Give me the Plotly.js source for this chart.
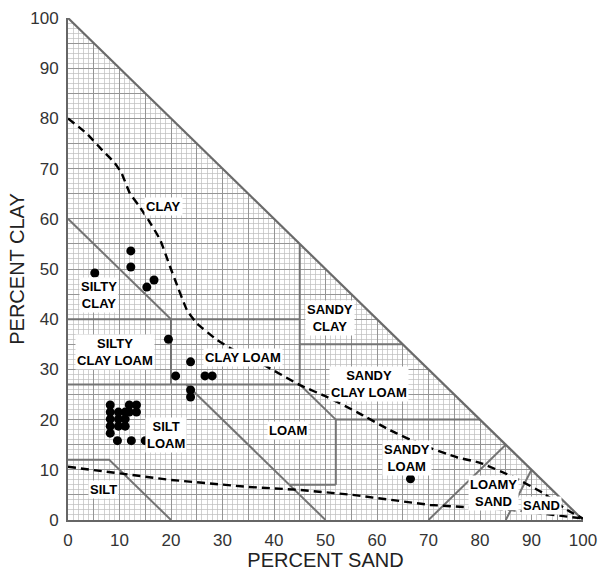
<!DOCTYPE html>
<html>
<head>
<meta charset="utf-8">
<script src="https://cdn.plot.ly/plotly-3.0.1.min.js"></script>
<style>
  html, body { margin: 0; padding: 0; background: #fff; }
  #chart { width: 599px; height: 571px; }
</style>
</head>
<body>
<div id="chart"></div>
<script>
// ---- Data (percent sand, percent clay) ----
// Texture-class boundaries (each segment: sand list, clay list)
var boundarySand = [
  [0, 20], [0, 45], [20, 20], [0, 45], [45, 45], [45, 65],
  [45, 52], [52, 80], [52, 52], [43, 52], [23, 50], [0, 8, 20],
  [70, 85], [85, 90]
];
var boundaryClay = [
  [60, 40], [40, 40], [27, 40], [27, 27], [27, 55], [35, 35],
  [27, 20], [20, 20], [20, 7], [7, 7], [27, 0], [12, 12, 0],
  [0, 15], [0, 10]
];
var edgeSand = [0, 100];
var edgeClay = [100, 0];

// Dashed envelope lines
var upperDashSand = [0, 3.6, 6.9, 9.1, 10.4, 12.0, 13.7, 15.6, 17.9, 19.8, 20.8, 23.1, 25.0, 28.9, 32.8, 37.3, 45.0, 50.3, 56.1, 62.5, 68.9, 75.5, 80.0, 86.4, 92.2, 96.9, 100];
var upperDashClay = [80, 77.0, 73.4, 71.1, 69.1, 65.1, 62.7, 59.8, 55.8, 50.5, 47.8, 41.8, 39.2, 35.9, 33.5, 31.3, 26.9, 24.5, 21.5, 17.9, 14.9, 12.5, 11.4, 8.6, 5.4, 2.0, 0.3];
var lowerDashSand = [0, 9.5, 19.8, 34.8, 45.0, 55.3, 70.3, 86.4, 100];
var lowerDashClay = [10.6, 9.4, 8.0, 6.6, 6.0, 5.0, 3.0, 2.0, 0.3];

// Sample points
var sampleSand = [5.2, 6.6, 12.2, 12.2, 15.3, 16.7, 19.5, 23.8, 20.9, 26.6, 28.0, 23.8, 23.8,
  8.2, 8.2, 8.2, 8.2, 8.2,
  9.8, 9.8, 9.8,
  11.1, 11.1, 11.1,
  11.9, 13.3, 11.9, 13.3,
  9.6, 12.3, 15.0,
  66.5];
var sampleClay = [49.2, 44.8, 53.6, 50.4, 46.4, 47.8, 36.0, 31.5, 28.7, 28.7, 28.7, 25.9, 24.5,
  22.9, 21.5, 20.1, 18.7, 17.3,
  21.5, 20.1, 18.7,
  21.5, 20.1, 18.7,
  22.9, 22.9, 21.5, 21.5,
  15.8, 15.8, 15.8,
  8.2];

// Class labels
var labelText = ['CLAY', 'SILTY<br>CLAY', 'SILTY<br>CLAY LOAM', 'CLAY LOAM', 'SANDY<br>CLAY',
  'SANDY<br>CLAY LOAM', 'SILT<br>LOAM', 'LOAM', 'SANDY<br>LOAM', 'LOAMY<br>SAND', 'SAND', 'SILT'];
var labelSand = [18.6, 6.0, 9.1, 34.0, 50.9, 58.4, 19.0, 42.7, 65.8, 82.6, 92.0, 6.8];
var labelClay = [62.4, 44.8, 33.5, 32.3, 40.2, 27.1, 16.9, 17.9, 12.3, 5.4, 2.8, 6.0];

// ---- Traces ----
var traces = [];
// white mask over the upper-right half (hides grid outside the triangle)
traces.push({
  x: [0, 100, 100, 0], y: [100, 0, 100, 100],
  type: 'scatter', mode: 'lines', fill: 'toself', fillcolor: '#ffffff',
  line: {width: 0, color: '#ffffff'}, hoverinfo: 'skip', showlegend: false
});
for (var i = 0; i < boundarySand.length; i++) {
  traces.push({
    x: boundarySand[i], y: boundaryClay[i], type: 'scatter', mode: 'lines',
    line: {color: '#747474', width: 2}, showlegend: false, hoverinfo: 'skip'
  });
}
traces.push({
  x: edgeSand, y: edgeClay, type: 'scatter', mode: 'lines',
  line: {color: '#6a6a6a', width: 2.2}, showlegend: false, hoverinfo: 'skip'
});
traces.push({
  x: upperDashSand, y: upperDashClay, type: 'scatter', mode: 'lines',
  line: {color: '#000', width: 2.4, dash: '8px,5px', shape: 'spline', smoothing: 0.4},
  showlegend: false
});
traces.push({
  x: lowerDashSand, y: lowerDashClay, type: 'scatter', mode: 'lines',
  line: {color: '#000', width: 2.4, dash: '8px,5px'},
  showlegend: false
});
traces.push({
  x: sampleSand, y: sampleClay, type: 'scatter', mode: 'markers',
  marker: {color: '#000', size: 9}, showlegend: false, cliponaxis: false
});

var annotations = labelText.map(function (t, i) {
  return {
    x: labelSand[i], y: labelClay[i], xref: 'x', yref: 'y', text: '<b>' + t.replace('<br>', '</b><br><b>') + '</b>',
    showarrow: false, bgcolor: '#ffffff', borderpad: 1,
    font: {family: 'Liberation Sans, Arial, sans-serif', size: 13, color: '#000'},
    align: 'center'
  };
});

var axisCommon = {
  range: [0, 100], tickmode: 'linear', tick0: 0, dtick: 5,
  showgrid: true, gridcolor: '#959595', gridwidth: 1,
  minor: {dtick: 1, showgrid: true, gridcolor: '#bdbdbd', gridwidth: 0.7, ticks: ''},
  zeroline: false, showline: true, linecolor: '#666', linewidth: 2,
  ticks: 'outside', ticklen: 4, tickcolor: 'rgba(0,0,0,0)',
  tickfont: {family: 'Liberation Sans, Arial, sans-serif', size: 17, color: '#333'},
  fixedrange: true
};

var xaxis = Object.assign({}, axisCommon, {
  title: {text: 'PERCENT SAND', standoff: 0,
    font: {family: 'Liberation Sans, Arial, sans-serif', size: 20, color: '#222'}}
});
var yaxis = Object.assign({}, axisCommon, {
  title: {text: 'PERCENT CLAY', standoff: 0,
    font: {family: 'Liberation Sans, Arial, sans-serif', size: 20, color: '#222'}}
});

var layout = {
  width: 599, height: 571,
  margin: {l: 68, r: 16, t: 18, b: 51},
  paper_bgcolor: '#fff', plot_bgcolor: '#fff',
  xaxis: xaxis, yaxis: yaxis,
  annotations: annotations,
  showlegend: false
};

Plotly.newPlot('chart', traces, layout, {displayModeBar: false, staticPlot: true}).then(function () {
  // show labels only at multiples of 10 (gridlines stay every 5)
  document.querySelectorAll('.xtick text, .ytick text').forEach(function (el) {
    var v = parseFloat(el.textContent);
    if (v % 10 !== 0) el.style.display = 'none';
  });
});
</script>
</body>
</html>
